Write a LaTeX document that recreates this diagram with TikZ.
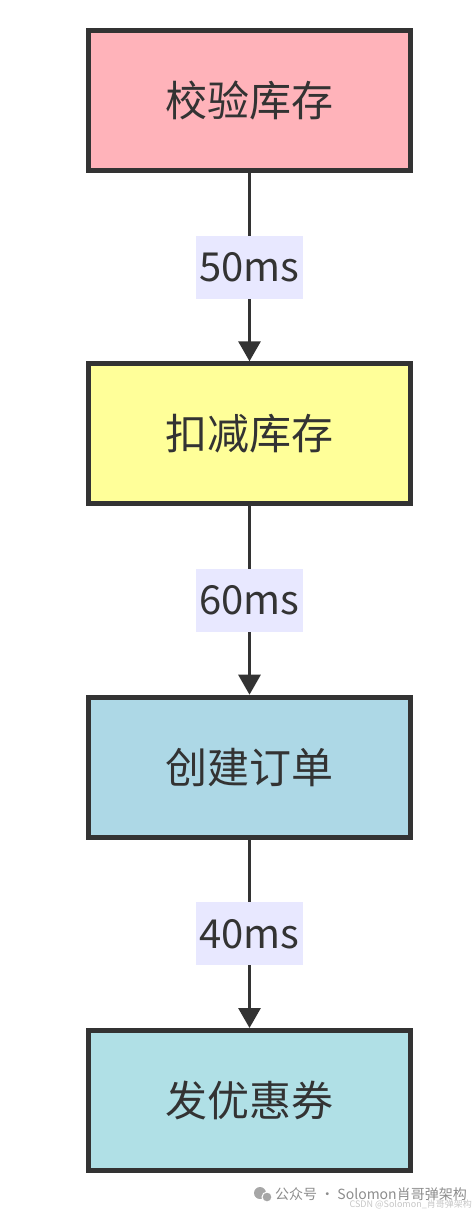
\documentclass[tikz,border=0pt]{standalone}
\usepackage{fontspec}
\setmainfont{Noto Sans CJK SC}
\usetikzlibrary{arrows, arrows.meta}
\definecolor{boxline}{HTML}{333333}
\definecolor{pinkbox}{HTML}{FFB3BA}
\definecolor{yellowbox}{HTML}{FFFF99}
\definecolor{bluebox}{HTML}{ADD8E6}
\definecolor{powderbox}{HTML}{B0E0E6}
\definecolor{edgebg}{HTML}{E8E8FF}

\begin{document}
\begin{tikzpicture}[x=1pt, y=-1pt,
    stage/.style={rectangle, draw=boxline, line width=5pt, inner sep=0pt, minimum width=322pt, minimum height=140pt, text=boxline, font=\fontsize{42}{50}\selectfont},
    cost/.style={rectangle, fill=edgebg, inner sep=0pt, minimum width=107pt, minimum height=63pt, text=boxline, font=\fontsize{40}{48}\selectfont},
    flow/.style={draw=boxline, line width=3pt, -{Triangle[length=20pt, width=22pt]}}]
      \useasboundingbox (0,0) rectangle (475,1213);

      \node[stage, fill=pinkbox] (check) at (249.5,100.5) {校验库存};
      \node[stage, fill=yellowbox] (deduct) at (249.5,433.8) {扣减库存};
      \node[stage, fill=bluebox] (order) at (249.5,767.2) {创建订单};
      \node[stage, fill=powderbox] (coupon) at (249.5,1100.5) {发优惠券};

      \draw[flow] (check) -- node[cost] (t1) {50ms} (deduct);
      \draw[flow] (deduct) -- node[cost] (t2) {60ms} (order);
      \draw[flow] (order) -- node[cost] (t3) {40ms} (coupon);

      \fill[gray!70] (260,1193) circle (6pt);
      \fill[gray!70, draw=white, line width=1pt] (267,1197) circle (5pt);
      \node[anchor=west, inner sep=0pt, text=gray!90, font=\fontsize{14}{16}\selectfont] (wx) at (275,1194) {公众号 · Solomon肖哥弹架构};
      \node[anchor=east, inner sep=0pt, text=gray!45, font=\fontsize{9}{10}\selectfont] (csdn) at (472,1204) {CSDN @Solomon\_肖哥弹架构};
    \end{tikzpicture}
\end{document}
